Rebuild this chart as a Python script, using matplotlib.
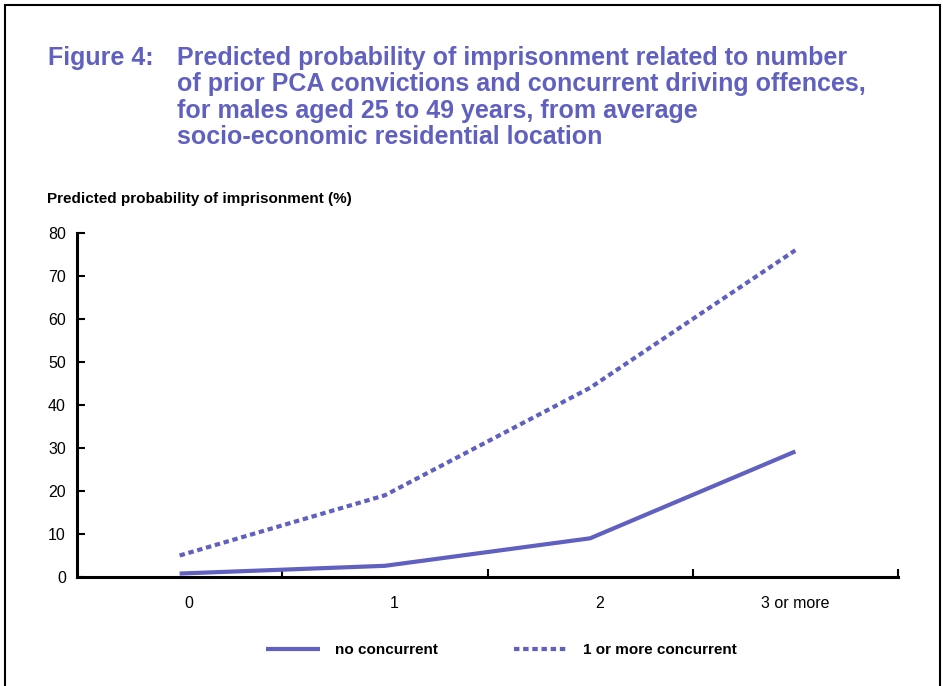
import matplotlib
matplotlib.use('Agg')
import matplotlib.pyplot as plt
import matplotlib.transforms as mtransforms
from matplotlib.patches import Rectangle

# ── Data ───────────────────────────────────────────────────────────────────────
categories      = ['0', '1', '2', '3 or more']
no_concurrent   = [0.8, 2.6, 9.0, 29.2]
with_concurrent = [5.0, 19.0, 44.0, 76.0]
y_ticks         = [0, 10, 20, 30, 40, 50, 60, 70, 80]

BLUE   = '#6060C0'
FONT   = ['Liberation Sans', 'DejaVu Sans']
plt.rcParams['font.family'] = FONT

fig = plt.figure(figsize=(9.43, 6.86), dpi=100)

# frame round the whole figure (bottom edge is cut off)
fig.patches.append(Rectangle((5 / 943, -0.05), 935 / 943, 1.05 - 5 / 686,
                             transform=fig.transFigure, fill=False,
                             edgecolor='black', linewidth=1.5))

# ── Title ──────────────────────────────────────────────────────────────────────
title_kw = dict(color=BLUE, fontsize=18, fontweight='bold', va='center')
fig.text(48 / 943, 1 - 58 / 686, 'Figure 4:', **title_kw)
title_lines = ['Predicted probability of imprisonment related to number',
               'of prior PCA convictions and concurrent driving offences,',
               'for males aged 25 to 49 years, from average',
               'socio-economic residential location']
for i, line in enumerate(title_lines):
    fig.text(177 / 943, 1 - (58 + 26.5 * i) / 686, line, **title_kw)

fig.text(47 / 943, 1 - 199 / 686, 'Predicted probability of imprisonment (%)',
         fontsize=11, fontweight='bold', va='center')

# ── Axes ───────────────────────────────────────────────────────────────────────
ax = fig.add_axes([77 / 943, 1 - 577 / 686, (898 - 77) / 943, (577 - 233) / 686])
x = list(range(len(categories)))
l1, = ax.plot(x, no_concurrent, color=BLUE, linewidth=3, solid_capstyle='butt')
l2, = ax.plot(x, with_concurrent, color=BLUE, linewidth=3,
              dashes=(1.3, 0.9))

ax.set_xlim(-0.5, 3.5)
ax.set_ylim(0, 80)
ax.set_yticks(y_ticks)
ax.tick_params(axis='y', direction='in', length=6, width=1.5, labelsize=11.5,
               pad=8)
ax.set_xticks([0.5, 1.5, 2.5, 3.5])
ax.set_xticklabels([])
ax.tick_params(axis='x', which='major', direction='in', length=6, width=1.5)
ax.set_xticks(x, minor=True)
ax.set_xticklabels(categories, minor=True)
ax.tick_params(axis='x', which='minor', length=0, labelsize=11.5, pad=14)

# category labels in the original sit a little right of the points
shift = mtransforms.ScaledTranslation(9 / 100, 0, fig.dpi_scale_trans)
for lab in ax.get_xticklabels(minor=True)[:3]:
    lab.set_transform(lab.get_transform() + shift)

for side in ['top', 'right']:
    ax.spines[side].set_visible(False)
for side in ['left', 'bottom']:
    ax.spines[side].set_linewidth(2.2)

fig.legend([l1, l2], ['no concurrent', '1 or more concurrent'],
           loc='center', bbox_to_anchor=(0.532, 1 - 650 / 686), ncol=2,
           frameon=False, handlelength=3.5, handletextpad=1.0, columnspacing=5,
           prop={'size': 11, 'weight': 'bold'})

fig.savefig('out.png', dpi=100)
